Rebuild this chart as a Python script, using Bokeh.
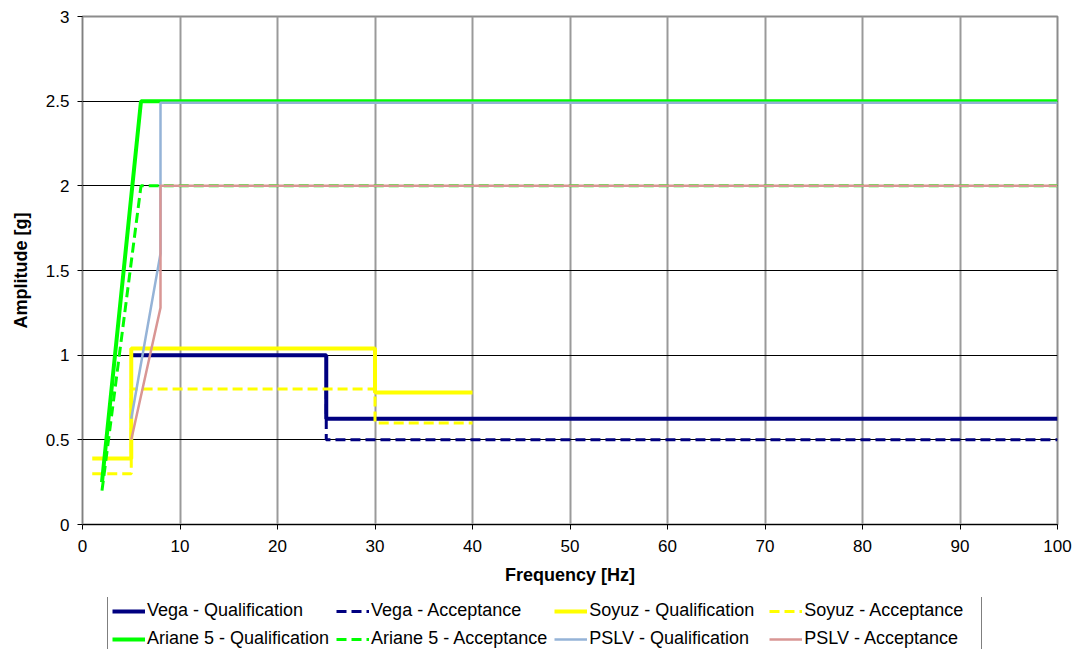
from bokeh.plotting import figure
from bokeh.layouts import column
from bokeh.models import Legend, LegendItem, FixedTicker, Range1d
from bokeh.embed import file_html
from bokeh.resources import INLINE

# Sine vibration levels, frequency [Hz] vs amplitude [g]
vega_qual_f = [5, 25, 25, 100]
vega_qual_a = [1.0, 1.0, 0.625, 0.625]
vega_acc_f = [25, 25, 100]
vega_acc_a = [0.8, 0.5, 0.5]

soyuz_qual_f = [1, 5, 5, 30, 30, 40]
soyuz_qual_a = [0.39, 0.39, 1.04, 1.04, 0.78, 0.78]
soyuz_acc_f = [1, 5, 5, 30, 30, 40]
soyuz_acc_a = [0.3, 0.3, 0.8, 0.8, 0.6, 0.6]

ariane_qual_f = [2, 6, 100]
ariane_qual_a = [0.25, 2.5, 2.5]
ariane_acc_f = [2, 6, 100]
ariane_acc_a = [0.2, 2.0, 2.0]

pslv_qual_f = [5, 8, 8, 100]
pslv_qual_a = [0.625, 1.6, 2.49, 2.49]
pslv_acc_f = [5, 8, 8, 100]
pslv_acc_a = [0.5, 1.28, 2.0, 2.0]

x_ticks = [0, 10, 20, 30, 40, 50, 60, 70, 80, 90, 100]
y_ticks = [0, 0.5, 1, 1.5, 2, 2.5, 3]
y_tick_labels = ["0", "0.5", "1", "1.5", "2", "2.5", "3"]

FONT = "Liberation Sans"

p = figure(width=1078, height=597, output_backend="svg", toolbar_location=None,
           x_range=Range1d(0, 100), y_range=Range1d(0, 3),
           min_border_left=82, min_border_right=21, min_border_top=16,
           min_border_bottom=73)
p.background_fill_color = "white"
p.border_fill_color = "white"
p.outline_line_color = "#8c8c8c"
p.outline_line_width = 2

# grid: grey verticals, thin black horizontals
p.xgrid.ticker = FixedTicker(ticks=x_ticks[1:-1])
p.xgrid.grid_line_color = "#9a9a9a"
p.xgrid.grid_line_width = 2
p.ygrid.ticker = FixedTicker(ticks=y_ticks[1:-1])
p.ygrid.grid_line_color = "black"
p.ygrid.grid_line_width = 1

p.xaxis.ticker = FixedTicker(ticks=x_ticks)
p.yaxis.ticker = FixedTicker(ticks=y_ticks)
p.yaxis.major_label_overrides = {t: s for t, s in zip(y_ticks, y_tick_labels)}
for ax in (p.xaxis[0], p.yaxis[0]):
    ax.minor_tick_line_color = None
    ax.major_tick_out = 5
    ax.major_tick_in = 0
    ax.major_tick_line_color = "black"
    ax.major_label_text_font = FONT
    ax.major_label_text_font_size = "17px"
    ax.major_label_text_color = "black"
    ax.axis_label_text_font = FONT
    ax.axis_label_text_font_size = "18px"
    ax.axis_label_text_font_style = "bold"
    ax.axis_label_text_color = "black"
p.xaxis.axis_line_color = "black"
p.yaxis.axis_line_color = "#808080"
p.xaxis.axis_label = "Frequency [Hz]"
p.yaxis.axis_label = "Amplitude [g]"
p.xaxis.major_label_standoff = 10
p.xaxis.axis_label_standoff = 10
p.yaxis.major_label_standoff = 8
p.yaxis.axis_label_standoff = 12

NAVY = "#000080"
YELLOW = "#ffff00"
GREEN = "#00ff00"
BLUE = "#95b3d7"
ROSE = "#d99694"
DASH = "10 5"

series = [
    ("Vega - Qualification", vega_qual_f, vega_qual_a, dict(line_color=NAVY, line_width=4)),
    ("Vega - Acceptance", vega_acc_f, vega_acc_a, dict(line_color=NAVY, line_width=3, line_dash=DASH)),
    ("Soyuz - Qualification", soyuz_qual_f, soyuz_qual_a, dict(line_color=YELLOW, line_width=4)),
    ("Soyuz - Acceptance", soyuz_acc_f, soyuz_acc_a, dict(line_color=YELLOW, line_width=3, line_dash=DASH)),
    ("Ariane 5 - Qualification", ariane_qual_f, ariane_qual_a, dict(line_color=GREEN, line_width=4)),
    ("Ariane 5 - Acceptance", ariane_acc_f, ariane_acc_a, dict(line_color=GREEN, line_width=3, line_dash=DASH)),
    ("PSLV - Qualification", pslv_qual_f, pslv_qual_a, dict(line_color=BLUE, line_width=2.5)),
    ("PSLV - Acceptance", pslv_acc_f, pslv_acc_a, dict(line_color=ROSE, line_width=2.5)),
]

for _, f, a, style in series:
    p.line(f, a, **style)

# legend strip under the chart: key glyphs only, nothing plotted
leg = figure(width=1078, height=52, output_backend="svg", toolbar_location=None,
             x_range=Range1d(0, 1), y_range=Range1d(0, 1), min_border=0)
leg.xaxis.visible = False
leg.yaxis.visible = False
leg.xgrid.visible = False
leg.ygrid.visible = False
leg.outline_line_color = None
leg.background_fill_color = "white"
leg.border_fill_color = "white"

nan = float("nan")
items = []
for label, _, _, style in series:
    r = leg.line([nan], [nan], **style)
    items.append(LegendItem(label=label, renderers=[r]))

# the legend fills column by column; order so rows read left to right
order = [0, 4, 1, 5, 2, 6, 3, 7]
legend = Legend(items=[items[i] for i in order], ncols=4, location=(25, -5),
                label_text_font=FONT, label_text_font_size="18px",
                label_text_color="black",
                glyph_width=33, glyph_height=20, label_height=20,
                label_width=173, label_standoff=2, spacing=7, padding=4,
                margin=0, border_line_color="black", border_line_width=1,
                background_fill_color="white", background_fill_alpha=1)
leg.add_layout(legend, "center")

open("out.html", "w").write(file_html(column(p, leg, spacing=0), INLINE))
